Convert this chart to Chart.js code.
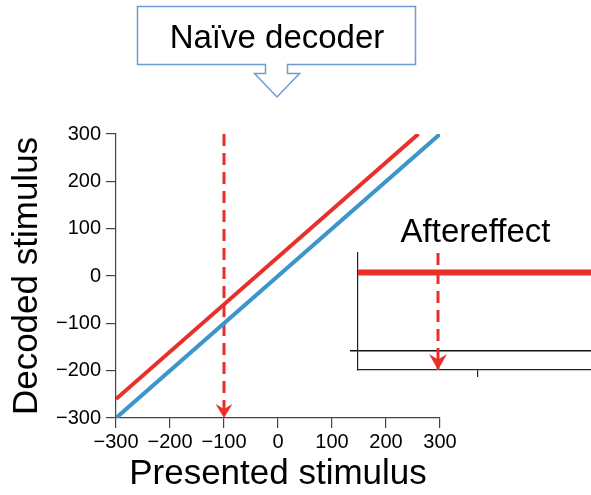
<!DOCTYPE html>
<html>
<head>
<meta charset="utf-8">
<script src="https://cdn.jsdelivr.net/npm/chart.js@4"></script>
<style>
  html, body { margin: 0; padding: 0; background: #fff; }
  #wrap { position: relative; width: 591px; height: 495px; overflow: hidden; }
  #main { position: absolute; left: 0; top: 0; }
  #inset { position: absolute; left: 340px; top: 200px; }
</style>
</head>
<body>
<div id="wrap">
  <canvas id="main" width="591" height="495"></canvas>
  <canvas id="inset" width="251" height="190"></canvas>
</div>
<script>
// main panel data
const presentedTicks = [-300, -200, -100, 0, 100, 200, 300];
const tickLabels = ['\u2212300', '\u2212200', '\u2212100', '0', '100', '200', '300'];
const veridicalX = [-300, 300];
const veridicalY = [-300, 300];
const adaptedX = [-300, 260];
const adaptedY = [-260, 300];
const probeX = [-100, -100];
const probeY = [300, -300];

// inset data
const insetXTicks = [0];
const insetYTicks = [0];
const aftereffectX = [-300, 300];
const aftereffectY = [40, 40];
const insetProbeX = [-100, -100];
const insetProbeY = [50, -10];

const FONT = "'Liberation Sans', Arial, sans-serif";
const RED = '#e8302a';
const BLUE = '#3d95cc';
const BOX = '#6e9bd2';

const pts = (xs, ys) => xs.map((x, i) => ({ x: x, y: ys[i] }));

// arrowhead at the last point of datasets flagged with arrow
const arrowPlugin = {
  id: 'arrowHeads',
  afterDatasetsDraw(chart) {
    const ctx = chart.ctx;
    chart.data.datasets.forEach((ds, i) => {
      if (!ds.arrow) return;
      const pts = chart.getDatasetMeta(i).data;
      const tip = pts[pts.length - 1];
      const w = ds.arrow.w, h = ds.arrow.h;
      ctx.save();
      ctx.fillStyle = ds.borderColor;
      ctx.beginPath();
      ctx.moveTo(tip.x, tip.y);
      ctx.lineTo(tip.x - w / 2, tip.y - h);
      ctx.lineTo(tip.x, tip.y - h * 0.65);
      ctx.lineTo(tip.x + w / 2, tip.y - h);
      ctx.closePath();
      ctx.fill();
      ctx.restore();
    });
  }
};

// "Naïve decoder" callout above the main panel
const calloutPlugin = {
  id: 'callout',
  afterDraw(chart) {
    const ctx = chart.ctx;
    ctx.save();
    ctx.strokeStyle = BOX;
    ctx.lineWidth = 1.5;
    ctx.fillStyle = '#fff';
    ctx.beginPath();
    ctx.moveTo(265.5, 64.5);
    ctx.lineTo(137.5, 64.5);
    ctx.lineTo(137.5, 6.5);
    ctx.lineTo(415.5, 6.5);
    ctx.lineTo(415.5, 64.5);
    ctx.lineTo(287.5, 64.5);
    ctx.lineTo(287.5, 73.5);
    ctx.lineTo(299.5, 73.5);
    ctx.lineTo(277, 97);
    ctx.lineTo(254.5, 73.5);
    ctx.lineTo(265.5, 73.5);
    ctx.closePath();
    ctx.fill();
    ctx.stroke();
    ctx.fillStyle = '#000';
    ctx.font = '33px ' + FONT;
    ctx.textAlign = 'center';
    ctx.textBaseline = 'alphabetic';
    ctx.fillText('Na\u00efve decoder', 277, 48);
    ctx.restore();
  }
};

new Chart(document.getElementById('main'), {
  type: 'line',
  data: {
    datasets: [
      {
        label: 'Veridical',
        data: pts(veridicalX, veridicalY),
        borderColor: BLUE,
        borderWidth: 4,
        pointRadius: 0
      },
      {
        label: 'Adapted',
        data: pts(adaptedX, adaptedY),
        borderColor: RED,
        borderWidth: 4,
        pointRadius: 0
      },
      {
        label: 'Probe',
        data: pts(probeX, probeY),
        borderColor: RED,
        borderWidth: 3,
        borderDash: [12, 7],
        pointRadius: 0,
        arrow: { w: 17, h: 14 }
      }
    ]
  },
  options: {
    responsive: false,
    animation: false,
    layout: { padding: { top: 134, right: 151, left: 0, bottom: 0 } },
    plugins: {
      legend: { display: false },
      tooltip: { enabled: false }
    },
    scales: {
      x: {
        type: 'linear',
        min: -300,
        max: 300,
        afterBuildTicks: s => { s.ticks = presentedTicks.map(v => ({ value: v })); },
        afterFit: s => { s.height = 77; },
        ticks: {
          callback: (v, i) => tickLabels[i],
          color: '#000',
          font: { family: FONT, size: 20 },
          padding: 2,
          maxRotation: 0
        },
        grid: { drawOnChartArea: false, tickLength: 10, color: '#444', lineWidth: 1.2 },
        border: { color: '#444', width: 1.2 },
        title: {
          display: true,
          text: 'Presented stimulus',
          color: '#000',
          font: { family: FONT, size: 35 },
          padding: { top: 0, bottom: 0 }
        }
      },
      y: {
        type: 'linear',
        min: -300,
        max: 300,
        afterBuildTicks: s => { s.ticks = presentedTicks.map(v => ({ value: v })); },
        afterFit: s => { s.width = 116; },
        ticks: {
          callback: (v, i) => tickLabels[i],
          color: '#000',
          font: { family: FONT, size: 20 },
          padding: 5
        },
        grid: { drawOnChartArea: false, tickLength: 10, color: '#444', lineWidth: 1.2 },
        border: { color: '#444', width: 1.2 },
        title: {
          display: true,
          text: 'Decoded stimulus',
          color: '#000',
          font: { family: FONT, size: 35 },
          padding: { top: 6, bottom: 0 }
        }
      }
    }
  },
  plugins: [arrowPlugin, calloutPlugin]
});

// inset title
const insetTitlePlugin = {
  id: 'insetTitle',
  afterDraw(chart) {
    const ctx = chart.ctx;
    const a = chart.chartArea;
    ctx.save();
    ctx.fillStyle = '#000';
    ctx.font = '33px ' + FONT;
    ctx.textAlign = 'center';
    ctx.textBaseline = 'alphabetic';
    ctx.fillText('Aftereffect', a.left + 117.5, a.top - 11);
    ctx.restore();
  }
};

new Chart(document.getElementById('inset'), {
  type: 'line',
  data: {
    datasets: [
      {
        label: 'Aftereffect',
        data: pts(aftereffectX, aftereffectY),
        borderColor: RED,
        borderWidth: 6,
        pointRadius: 0
      },
      {
        label: 'Probe',
        data: pts(insetProbeX, insetProbeY),
        borderColor: RED,
        borderWidth: 3,
        borderDash: [12, 7],
        pointRadius: 0,
        arrow: { w: 18, h: 16 }
      }
    ]
  },
  options: {
    responsive: false,
    animation: false,
    layout: { padding: { top: 53, right: 0, left: 0, bottom: 0 } },
    plugins: {
      legend: { display: false },
      tooltip: { enabled: false }
    },
    scales: {
      x: {
        type: 'linear',
        min: -300,
        max: 282.5,
        afterBuildTicks: s => { s.ticks = insetXTicks.map(v => ({ value: v })); },
        afterFit: s => { s.height = 20; },
        ticks: { display: false },
        grid: { drawOnChartArea: false, tickLength: 7, color: '#222', lineWidth: 1.2 },
        border: { color: '#222', width: 1.2 }
      },
      y: {
        type: 'linear',
        min: -10,
        max: 50,
        afterBuildTicks: s => { s.ticks = insetYTicks.map(v => ({ value: v })); },
        afterFit: s => { s.width = 18; },
        ticks: { display: false },
        grid: { drawOnChartArea: true, tickLength: 8, color: '#111', lineWidth: 1.5 },
        border: { color: '#222', width: 1.2 }
      }
    }
  },
  plugins: [arrowPlugin, insetTitlePlugin]
});
</script>
</body>
</html>
